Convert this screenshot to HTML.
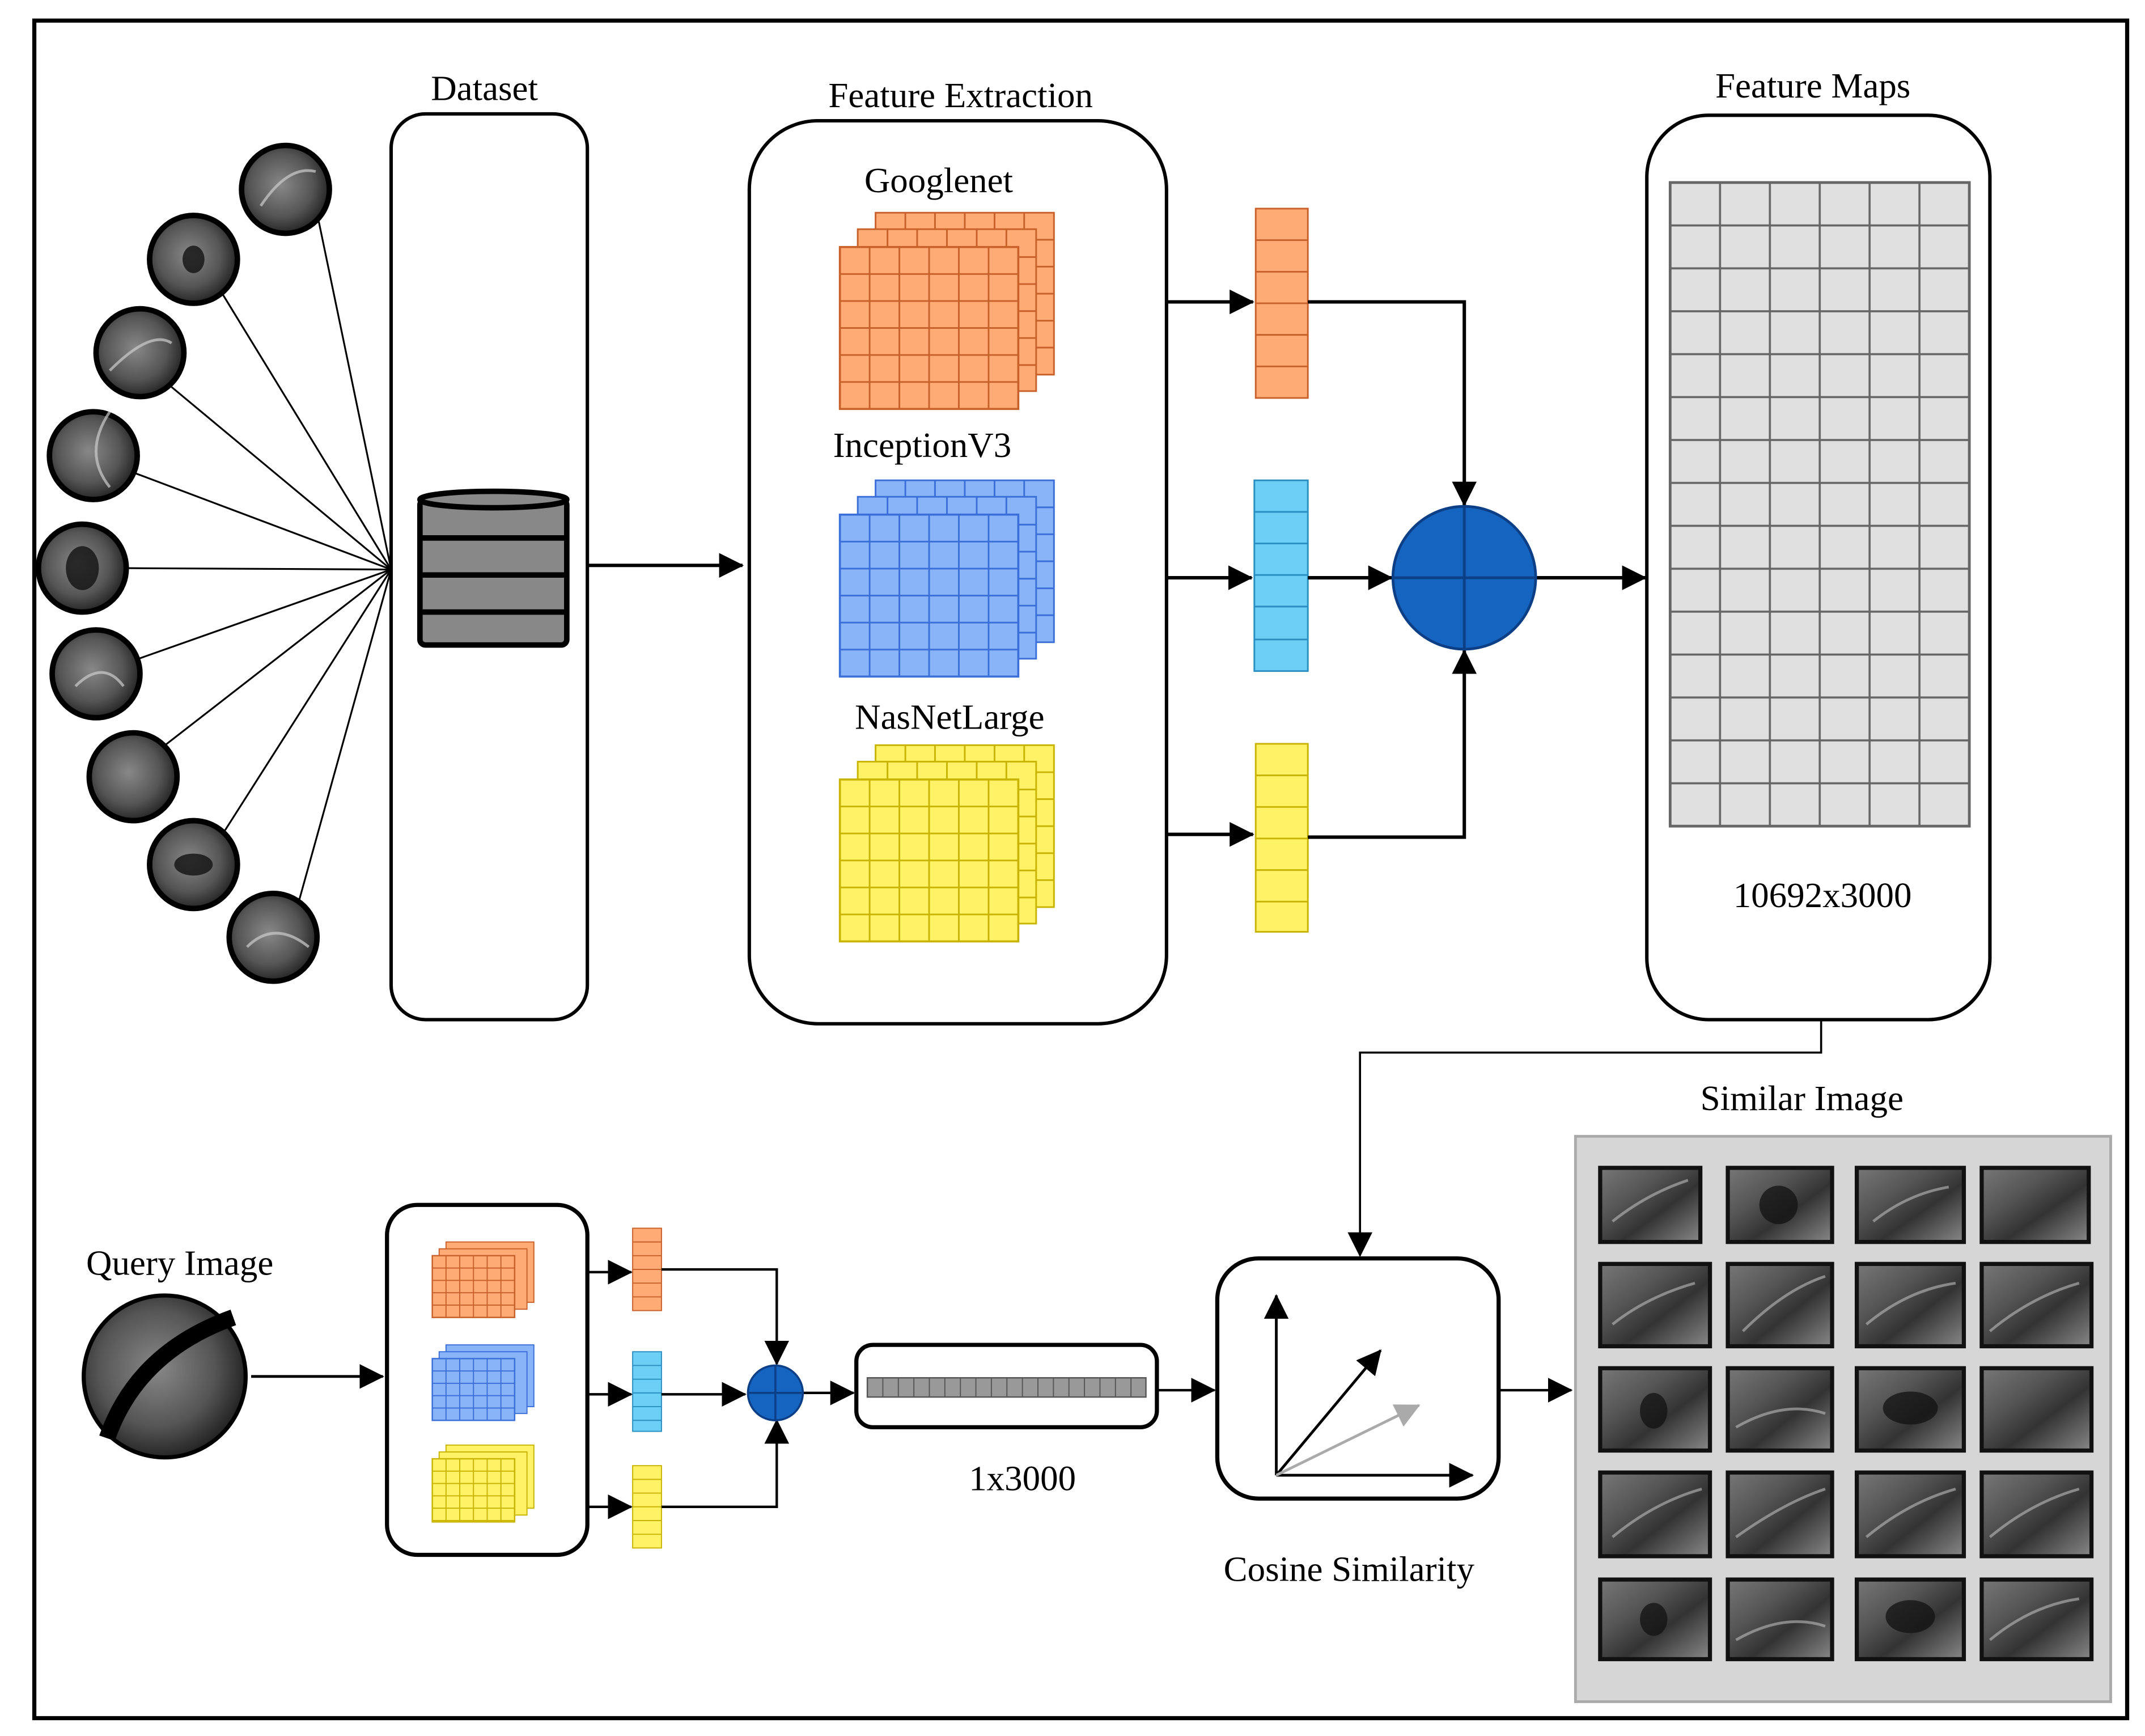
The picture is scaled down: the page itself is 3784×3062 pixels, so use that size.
<!DOCTYPE html>
<html><head><meta charset="utf-8"><style>html,body{margin:0;padding:0;background:#fff}svg{display:block}</style></head>
<body>
<svg width="3784" height="3062" viewBox="0 0 1563 1265" preserveAspectRatio="none" xmlns="http://www.w3.org/2000/svg" font-family="'Liberation Serif',serif">
<defs>
<marker id="ahb" markerWidth="18" markerHeight="18" refX="17" refY="9" orient="auto" markerUnits="userSpaceOnUse"><path d="M0,0 L18,9 L0,18 z" fill="#000"/></marker>
<marker id="ahg" markerWidth="18" markerHeight="18" refX="17" refY="9" orient="auto" markerUnits="userSpaceOnUse"><path d="M0,0 L18,9 L0,18 z" fill="#aaa"/></marker>
<radialGradient id="us" cx="45%" cy="45%" r="60%"><stop offset="0" stop-color="#888"/><stop offset="0.6" stop-color="#555"/><stop offset="1" stop-color="#1a1a1a"/></radialGradient>
<linearGradient id="th" x1="0" y1="0" x2="1" y2="1"><stop offset="0" stop-color="#777"/><stop offset="0.35" stop-color="#555"/><stop offset="0.6" stop-color="#333"/><stop offset="1" stop-color="#888"/></linearGradient>
<pattern id="go" width="21.67" height="19.67" patternUnits="userSpaceOnUse" x="612" y="180"><rect width="21.67" height="19.67" fill="#ffab76" stroke="#c8602a" stroke-width="1.2"/></pattern>
</defs>
<rect x="0" y="0" width="1563" height="1265" fill="#fff"/>
<rect x="25" y="15" width="1525" height="1237" fill="none" stroke="#000" stroke-width="3"/>

<text x="353" y="73" font-size="26" text-anchor="middle">Dataset</text>
<rect x="285" y="83" width="143" height="660" rx="25" fill="none" stroke="#000" stroke-width="2.5"/>
<g stroke="#000" stroke-width="1.3">
<line x1="285" y1="415" x2="232" y2="160"/><line x1="285" y1="415" x2="162" y2="214"/>
<line x1="285" y1="415" x2="125" y2="282"/><line x1="285" y1="415" x2="99" y2="345"/>
<line x1="285" y1="415" x2="92" y2="414"/><line x1="285" y1="415" x2="101" y2="480"/>
<line x1="285" y1="415" x2="119" y2="544"/><line x1="285" y1="415" x2="164" y2="605"/>
<line x1="285" y1="415" x2="218" y2="656"/>
</g>
<g stroke="#000" stroke-width="4" fill="url(#us)">
<circle cx="208" cy="138" r="32"/><circle cx="141" cy="189" r="32"/><circle cx="102" cy="257" r="32"/>
<circle cx="68" cy="332" r="32"/><circle cx="60" cy="414" r="32"/><circle cx="70" cy="491" r="32"/>
<circle cx="97" cy="566" r="32"/><circle cx="141" cy="630" r="32"/><circle cx="199" cy="683" r="32"/>
</g>
<g fill="#111" opacity="0.8"><ellipse cx="60" cy="414" rx="12" ry="16"/><ellipse cx="141" cy="189" rx="8" ry="10"/><ellipse cx="141" cy="630" rx="14" ry="8"/></g>
<g fill="none" stroke="#ccc" stroke-width="2" opacity="0.7">
<path d="M190,150 Q210,120 230,125"/><path d="M80,300 Q60,330 80,355"/><path d="M80,270 Q110,240 125,250"/><path d="M55,500 Q75,480 90,500"/><path d="M180,690 Q200,670 225,690"/>
</g>
<g stroke="#000" stroke-width="4" fill="#888">
<rect x="306" y="364" width="107" height="106" rx="4"/>
<ellipse cx="359.5" cy="364" rx="53.5" ry="6"/>
<line x1="306" y1="392" x2="413" y2="392"/><line x1="306" y1="419" x2="413" y2="419"/><line x1="306" y1="446" x2="413" y2="446"/>
</g>
<line x1="428" y1="412" x2="541" y2="412" stroke="#000" stroke-width="2.5" marker-end="url(#ahb)"/>

<text x="700" y="78" font-size="26" text-anchor="middle">Feature Extraction</text>
<rect x="546" y="88" width="304" height="658" rx="50" fill="none" stroke="#000" stroke-width="2.5"/>
<text x="684" y="140" font-size="26" text-anchor="middle">Googlenet</text>
<text x="672" y="333" font-size="26" text-anchor="middle">InceptionV3</text>
<text x="692" y="531" font-size="26" text-anchor="middle">NasNetLarge</text>
<g stroke="#c8602a" stroke-width="1.2" fill="#ffab76">
<rect x="638" y="155" width="130" height="118"/><rect x="625" y="167" width="130" height="118"/>
</g>
<g stroke="#3a6ed8" stroke-width="1.2" fill="#8ab4f8">
<rect x="638" y="350" width="130" height="118"/><rect x="625" y="362" width="130" height="118"/>
</g>
<g stroke="#c8b400" stroke-width="1.2" fill="#fff266">
<rect x="638" y="543" width="130" height="118"/><rect x="625" y="555" width="130" height="118"/>
</g>
<g stroke-width="1.2">
<g stroke="#c8602a"><path d="M659.7,155V167M681.3,155V167M703,155V167M724.7,155V167M746.3,155V167M755,174.7H768M755,194.3H768M755,214H768M755,233.7H768M755,253.3H768M646.7,167V180M668.3,167V180M690,167V180M711.7,167V180M733.3,167V180M742,187.3H755M742,207H755M742,226.7H755M742,246.3H755M742,266H755"/></g>
<g stroke="#3a6ed8"><path d="M659.7,350V362M681.3,350V362M703,350V362M724.7,350V362M746.3,350V362M755,369.7H768M755,389.3H768M755,409H768M755,428.7H768M755,448.3H768M646.7,362V375M668.3,362V375M690,362V375M711.7,362V375M733.3,362V375M742,382.3H755M742,402H755M742,421.7H755M742,441.3H755M742,461H755"/></g>
<g stroke="#c8b400"><path d="M659.7,543V555M681.3,543V555M703,543V555M724.7,543V555M746.3,543V555M755,562.7H768M755,582.3H768M755,602H768M755,621.7H768M755,641.3H768M646.7,555V568M668.3,555V568M690,555V568M711.7,555V568M733.3,555V568M742,575.3H755M742,595H755M742,614.7H755M742,634.3H755M742,654H755"/></g>
</g>
<rect x="612" y="180" width="130" height="118" fill="url(#go)" stroke="#c8602a" stroke-width="1.5"/>
<pattern id="gb" width="21.67" height="19.67" patternUnits="userSpaceOnUse" x="612" y="375"><rect width="21.67" height="19.67" fill="#8ab4f8" stroke="#3a6ed8" stroke-width="1.2"/></pattern>
<pattern id="gy" width="21.67" height="19.67" patternUnits="userSpaceOnUse" x="612" y="568"><rect width="21.67" height="19.67" fill="#fff266" stroke="#c8b400" stroke-width="1.2"/></pattern>
<rect x="612" y="375" width="130" height="118" fill="url(#gb)" stroke="#3a6ed8" stroke-width="1.5"/>
<rect x="612" y="568" width="130" height="118" fill="url(#gy)" stroke="#c8b400" stroke-width="1.5"/>

<g stroke-width="1.2">
<rect x="915" y="152" width="38" height="138" fill="#ffab76" stroke="#c8602a"/>
<path d="M915,175H953M915,198H953M915,221H953M915,244H953M915,267H953" stroke="#c8602a"/>
<rect x="914" y="350" width="39" height="139" fill="#6ccff6" stroke="#2a8ec0"/>
<path d="M914,373H953M914,396H953M914,419H953M914,442H953M914,466H953" stroke="#2a8ec0"/>
<rect x="915" y="542" width="38" height="137" fill="#fff266" stroke="#c8b400"/>
<path d="M915,565H953M915,588H953M915,611H953M915,634H953M915,657H953" stroke="#c8b400"/>
</g>
<g stroke="#000" stroke-width="2.5" fill="none">
<line x1="850" y1="220" x2="913" y2="220" marker-end="url(#ahb)"/>
<line x1="850" y1="421" x2="912" y2="421" marker-end="url(#ahb)"/>
<line x1="850" y1="608" x2="913" y2="608" marker-end="url(#ahb)"/>
<polyline points="953,220 1067,220 1067,368" marker-end="url(#ahb)"/>
<polyline points="953,610 1067,610 1067,474" marker-end="url(#ahb)"/>
<line x1="953" y1="421" x2="1014" y2="421" marker-end="url(#ahb)"/>
<line x1="1119" y1="421" x2="1199" y2="421" marker-end="url(#ahb)"/>
</g>
<circle cx="1067" cy="421" r="52" fill="#1565c0" stroke="#0d3f86" stroke-width="2"/>
<path d="M1015,421H1119M1067,369V473" stroke="#0d3f86" stroke-width="2"/>

<text x="1321" y="71" font-size="26" text-anchor="middle">Feature Maps</text>
<rect x="1200" y="84" width="250" height="659" rx="45" fill="none" stroke="#000" stroke-width="2.5"/>
<pattern id="fm" x="1217" y="133" width="36.33" height="31.27" patternUnits="userSpaceOnUse"><rect width="36.33" height="31.27" fill="#e0e0e0" stroke="#666" stroke-width="1.5"/></pattern>
<rect x="1217" y="133" width="218" height="469" fill="url(#fm)" stroke="#666" stroke-width="2"/>
<text x="1328" y="661" font-size="26" text-anchor="middle">10692x3000</text>
<polyline points="1327,743 1327,767 991,767 991,915" fill="none" stroke="#000" stroke-width="1.5" marker-end="url(#ahb)"/>

<text x="131" y="929" font-size="26" text-anchor="middle">Query Image</text>
<circle cx="120" cy="1003" r="59" fill="url(#us)" stroke="#000" stroke-width="3"/>
<path d="M78,1048 Q100,985 170,960" stroke="#000" stroke-width="12" fill="none"/>
<line x1="183" y1="1003" x2="279" y2="1003" stroke="#000" stroke-width="2" marker-end="url(#ahb)"/>
<rect x="282" y="878" width="146" height="255" rx="22" fill="none" stroke="#000" stroke-width="3"/>
<g stroke-width="0.8">
<rect x="325" y="905" width="64" height="44" fill="#ffab76" stroke="#c8602a"/><rect x="320" y="910" width="64" height="44" fill="#ffab76" stroke="#c8602a"/>
<rect x="325" y="980" width="64" height="45" fill="#8ab4f8" stroke="#3a6ed8"/><rect x="320" y="985" width="64" height="45" fill="#8ab4f8" stroke="#3a6ed8"/>
<rect x="325" y="1053" width="64" height="46" fill="#fff266" stroke="#c8b400"/><rect x="320" y="1058" width="64" height="46" fill="#fff266" stroke="#c8b400"/>
</g>
<pattern id="so" x="315" y="915" width="10" height="9" patternUnits="userSpaceOnUse"><rect width="10" height="9" fill="#ffab76" stroke="#c8602a" stroke-width="0.8"/></pattern>
<pattern id="sb" x="315" y="990" width="10" height="9" patternUnits="userSpaceOnUse"><rect width="10" height="9" fill="#8ab4f8" stroke="#3a6ed8" stroke-width="0.8"/></pattern>
<pattern id="sy" x="315" y="1063" width="10" height="9" patternUnits="userSpaceOnUse"><rect width="10" height="9" fill="#fff266" stroke="#c8b400" stroke-width="0.8"/></pattern>
<rect x="315" y="915" width="60" height="45" fill="url(#so)" stroke="#c8602a"/>
<rect x="315" y="990" width="60" height="45" fill="url(#sb)" stroke="#3a6ed8"/>
<rect x="315" y="1063" width="60" height="46" fill="url(#sy)" stroke="#c8b400"/>
<g stroke-width="0.8">
<rect x="461" y="895" width="21" height="60" fill="#ffab76" stroke="#c8602a"/>
<path d="M461,905H482M461,915H482M461,925H482M461,935H482M461,945H482" stroke="#c8602a"/>
<rect x="461" y="985" width="21" height="58" fill="#6ccff6" stroke="#2a8ec0"/>
<path d="M461,995H482M461,1005H482M461,1015H482M461,1025H482M461,1035H482" stroke="#2a8ec0"/>
<rect x="461" y="1068" width="21" height="60" fill="#fff266" stroke="#c8b400"/>
<path d="M461,1078H482M461,1088H482M461,1098H482M461,1108H482M461,1118H482" stroke="#c8b400"/>
</g>
<g stroke="#000" stroke-width="1.8" fill="none">
<line x1="428" y1="927" x2="460" y2="927" marker-end="url(#ahb)"/>
<line x1="428" y1="1016" x2="460" y2="1016" marker-end="url(#ahb)"/>
<line x1="428" y1="1098" x2="460" y2="1098" marker-end="url(#ahb)"/>
<polyline points="482,925 566,925 566,994" marker-end="url(#ahb)"/>
<polyline points="482,1098 566,1098 566,1035" marker-end="url(#ahb)"/>
<line x1="482" y1="1016" x2="543" y2="1016" marker-end="url(#ahb)"/>
<line x1="585" y1="1015" x2="622" y2="1015" marker-end="url(#ahb)"/>
<line x1="844" y1="1013" x2="885" y2="1013" marker-end="url(#ahb)"/>
<line x1="1092" y1="1013" x2="1145" y2="1013" marker-end="url(#ahb)"/>
</g>
<circle cx="565" cy="1015" r="20" fill="#1565c0" stroke="#0d3f86" stroke-width="1.5"/>
<path d="M545,1015H585M565,995V1035" stroke="#0d3f86" stroke-width="1.5"/>
<rect x="624" y="980" width="219" height="60" rx="12" fill="none" stroke="#000" stroke-width="3"/>
<pattern id="bar" x="632" y="1004" width="11.3" height="14" patternUnits="userSpaceOnUse"><rect width="11.3" height="14" fill="#999" stroke="#555" stroke-width="0.8"/></pattern>
<rect x="632" y="1004" width="203" height="14" fill="url(#bar)" stroke="#555"/>
<text x="745" y="1086" font-size="26" text-anchor="middle">1x3000</text>

<rect x="887" y="917" width="205" height="175" rx="30" fill="none" stroke="#000" stroke-width="3"/>
<g stroke="#000" stroke-width="2" fill="none">
<line x1="930" y1="1075" x2="930" y2="944" marker-end="url(#ahb)"/>
<line x1="930" y1="1075" x2="1073" y2="1075" marker-end="url(#ahb)"/>
<line x1="930" y1="1075" x2="1006" y2="984" marker-end="url(#ahb)"/>
<line x1="930" y1="1075" x2="1034" y2="1024" stroke="#aaa" marker-end="url(#ahg)"/>
</g>
<text x="983" y="1152" font-size="26" text-anchor="middle">Cosine Similarity</text>

<text x="1313" y="809" font-size="26" text-anchor="middle">Similar Image</text>
<rect x="1148" y="828" width="390" height="412" fill="#d6d6d6" stroke="#aaa" stroke-width="2"/>
<g fill="url(#th)" stroke="#111" stroke-width="3">
<rect x="1166" y="851" width="73" height="54"/><rect x="1259" y="851" width="76" height="54"/><rect x="1353" y="851" width="78" height="54"/><rect x="1444" y="851" width="78" height="54"/>
<rect x="1166" y="921" width="80" height="60"/><rect x="1259" y="921" width="76" height="60"/><rect x="1353" y="921" width="78" height="60"/><rect x="1444" y="921" width="80" height="60"/>
<rect x="1166" y="997" width="80" height="60"/><rect x="1259" y="997" width="76" height="60"/><rect x="1353" y="997" width="78" height="60"/><rect x="1444" y="997" width="80" height="60"/>
<rect x="1166" y="1073" width="80" height="61"/><rect x="1259" y="1073" width="76" height="61"/><rect x="1353" y="1073" width="78" height="61"/><rect x="1444" y="1073" width="80" height="61"/>
<rect x="1166" y="1151" width="80" height="58"/><rect x="1259" y="1151" width="76" height="58"/><rect x="1353" y="1151" width="78" height="58"/><rect x="1444" y="1151" width="80" height="58"/>
</g>
<g fill="#111" opacity="0.75">
<ellipse cx="1296" cy="878" rx="14" ry="14"/><ellipse cx="1205" cy="1028" rx="10" ry="13"/><ellipse cx="1392" cy="1026" rx="20" ry="12"/><ellipse cx="1392" cy="1178" rx="18" ry="12"/><ellipse cx="1205" cy="1180" rx="10" ry="12"/>
</g>
<g fill="none" stroke="#bbb" stroke-width="2" opacity="0.6">
<path d="M1175,890 Q1200,870 1230,860"/><path d="M1365,890 Q1390,870 1420,865"/><path d="M1270,970 Q1300,940 1330,930"/><path d="M1175,965 Q1200,945 1235,935"/><path d="M1360,965 Q1390,940 1425,935"/><path d="M1450,970 Q1480,945 1515,935"/><path d="M1265,1040 Q1300,1020 1330,1030"/><path d="M1175,1120 Q1205,1095 1240,1085"/><path d="M1265,1120 Q1300,1095 1330,1085"/><path d="M1360,1120 Q1390,1095 1425,1085"/><path d="M1450,1120 Q1480,1095 1515,1085"/><path d="M1265,1195 Q1300,1175 1330,1185"/><path d="M1450,1195 Q1480,1170 1515,1165"/>
</g>
</svg>
</body></html>
